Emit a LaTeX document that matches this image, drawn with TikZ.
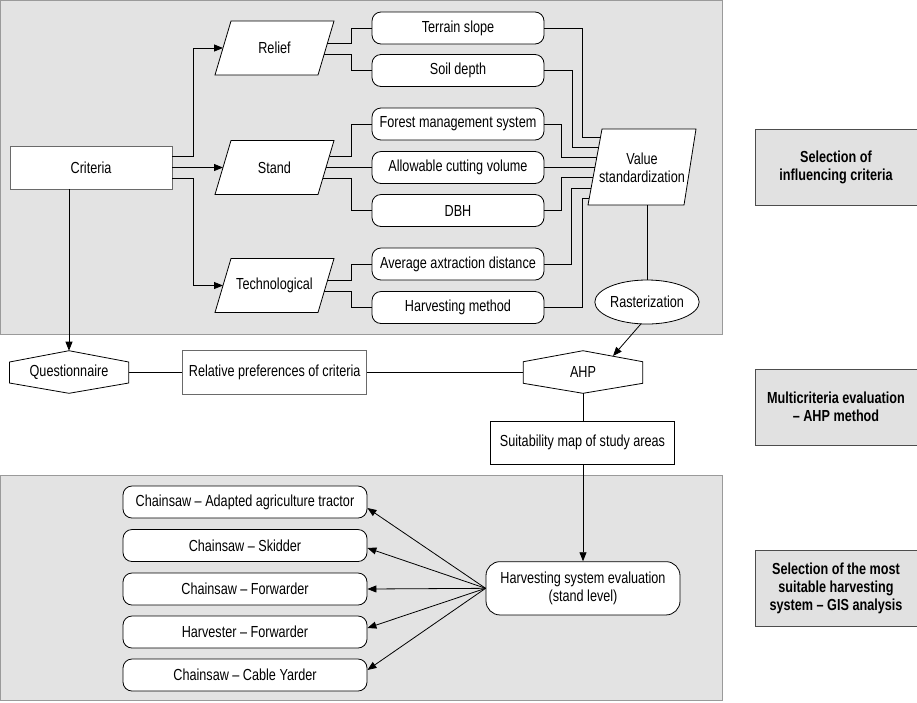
\documentclass[tikz,border=0pt]{standalone}
\usepackage{fontspec}
\setmainfont{Liberation Sans}[FakeStretch=0.79]
\usetikzlibrary{arrows.meta,shapes.geometric}
\definecolor{panelfill}{HTML}{E3E3E3}
\definecolor{panelline}{HTML}{9A9A9A}
\definecolor{labelfill}{HTML}{E1E1E1}
\definecolor{labelline}{HTML}{4D4D4D}
\definecolor{boxgray}{HTML}{6A6A6A}
\begin{document}
\begin{tikzpicture}[x=1pt,y=-1pt,line width=0.8pt,
  font=\fontsize{16}{18}\selectfont,
  rectbox/.style={draw,fill=white,inner sep=0pt,align=center},
  term/.style={draw,fill=white,rounded corners=9pt,minimum width=172pt,minimum height=32pt,inner sep=0pt},
  txt/.style={inner sep=0pt,align=center},
  lab/.style={inner sep=0pt,align=center,font=\fontsize{16}{18}\selectfont\bfseries},
  labbox/.style={draw=labelline,fill=labelfill,line width=0.9pt},
  panel/.style={draw=panelline,fill=panelfill,line width=1pt},
  arr/.style={-{Triangle[length=9pt,width=7pt]}},
  shape fill/.style={draw,fill=white}]
\useasboundingbox[fill=white] (0,0) rectangle (917,702);

% panels
\draw[panel] (0.5,0.5) rectangle (722,334);
\draw[panel] (0.5,475) rectangle (722,700);

% right labels
\draw[labbox] (755.5,129) rectangle (922,205);
\draw[labbox] (755.5,369) rectangle (922,445);
\draw[labbox] (755.5,550) rectangle (922,626);
\node[lab] (lab1) at (836,167) {Selection of\\influencing criteria};
\node[lab] (lab2) at (836,407) {Multicriteria evaluation\\– AHP method};
\node[lab] (lab3) at (836,588) {Selection of the most\\suitable harvesting\\system – GIS analysis};

% criteria
\node[rectbox,draw=boxgray,minimum width=162pt,minimum height=43pt] (criteria) at (91,167.5) {Criteria};

% parallelograms
\draw[shape fill] (231,21) -- (334,21) -- (318,75) -- (215,75) -- cycle;
\node[txt] (relief) at (274.5,48) {Relief};
\draw[shape fill] (231,140.5) -- (334,140.5) -- (318,194.5) -- (215,194.5) -- cycle;
\node[txt] (stand) at (274.5,167.5) {Stand};
\draw[shape fill] (231,258.5) -- (334,258.5) -- (318,312.5) -- (215,312.5) -- cycle;
\node[txt] (tech) at (274.5,285.5) {Technological};

\coordinate (reliefin) at (223,48);
\coordinate (standin) at (223,167.5);
\coordinate (techin) at (223,285.5);
\draw[arr] (172,156) -- (193,156) |- (reliefin);
\draw[arr] (criteria.east) -- (standin);
\draw[arr] (172,178.5) -- (193,178.5) |- (techin);

% criteria boxes
\node[term] (terrain) at (458,28) {Terrain slope};
\node[term] (soil) at (458,70.5) {Soil depth};
\node[term] (fms) at (458,124) {Forest management system};
\node[term] (allow) at (458,167.5) {Allowable cutting volume};
\node[term] (dbh) at (458,210.5) {DBH};
\node[term] (avg) at (458,264) {Average axtraction distance};
\node[term] (harv) at (458,307.5) {Harvesting method};

% relief / stand / tech -> boxes
\draw (327.4,43.3) -- (351,43.3) |- (terrain.west);
\draw (324.2,54) -- (351,54) |- (soil.west);
\draw (329.5,156) -- (351,156) |- (fms.west);
\draw (326,167.5) -- (allow.west);
\draw (322.8,178.3) -- (351,178.3) |- (dbh.west);
\draw (327.7,280) -- (351,280) |- (avg.west);
\draw (324.3,291) -- (351,291) |- (harv.west);

% value standardization
\draw[shape fill] (602,129) -- (696,129) -- (684,205) -- (588,205) -- cycle;
\node[txt] (vs) at (642,168) {Value\\standardization};

\draw (terrain.east) -- (582,28) |- (600.5,137);
\draw (soil.east) -- (572,70.5) |- (598.7,147);
\draw (fms.east) -- (561,124) |- (596.8,157);
\draw (allow.east) -- (594.9,167.5);
\draw (dbh.east) -- (561,210.5) |- (593.2,177);
\draw (avg.east) -- (571,264) |- (591.1,188);
\draw (harv.east) -- (582,307.5) |- (589.3,198);

% rasterization
\node[draw,fill=white,ellipse,minimum width=98pt,minimum height=44pt,inner sep=0pt] (rast) at (647,302) {Rasterization};
\draw (647,205) -- (rast.north);

% middle row
\draw[shape fill] (69,350.7) -- (128.7,362) -- (128.7,383) -- (69,393.3) -- (9.5,383) -- (9.5,362) -- cycle;
\node[txt] (quest) at (69,372) {Questionnaire};
\node[rectbox,draw=boxgray,minimum width=184pt,minimum height=43.3pt] (relpref) at (274.7,372.3) {Relative preferences of criteria};
\draw[shape fill] (583,350.7) -- (642.7,361.7) -- (642.7,383.3) -- (583,393.3) -- (523.3,383.3) -- (523.3,361.7) -- cycle;
\node[txt] (ahp) at (583,372) {AHP};

\coordinate (questtop) at (69,350.7);
\coordinate (questright) at (128.7,372.3);
\coordinate (ahpleft) at (523.3,372.3);
\coordinate (ahpin) at (613,356);
\coordinate (ahpbot) at (583,393.3);
\coordinate (rastout) at (641,323.8);

\draw[arr] (criteria.south -| questtop) -- (questtop);
\draw (questright) -- (relpref.west);
\draw (relpref.east) -- (ahpleft);
\draw[arr] (rastout) -- (ahpin);

\node[rectbox,minimum width=183.6pt,minimum height=43.3pt] (suit) at (582.5,442.7) {Suitability map of study areas};
\draw (ahpbot) -- (suit.north -| ahpbot);

% bottom part
\node[draw,fill=white,rounded corners=14pt,minimum width=194pt,minimum height=53.3pt,inner sep=0pt,align=center] (hse) at (583,588.3) {Harvesting system evaluation\\(stand level)};
\draw[arr] (suit.south -| hse.north) -- (hse.north);

\node[term,minimum width=244pt] (c1) at (245,502) {Chainsaw – Adapted agriculture tractor};
\node[term,minimum width=244pt] (c2) at (245,545.5) {Chainsaw – Skidder};
\node[term,minimum width=244pt] (c3) at (245,589) {Chainsaw – Forwarder};
\node[term,minimum width=244pt] (c4) at (245,632) {Harvester – Forwarder};
\node[term,minimum width=244pt] (c5) at (245,675) {Chainsaw – Cable Yarder};

\draw[arr] (hse.west) -- ([yshift=-6pt]c1.east);
\draw[arr] (hse.west) -- ([yshift=-2.5pt]c2.east);
\draw[arr] (hse.west) -- (c3.east);
\draw[arr] (hse.west) -- ([yshift=4pt]c4.east);
\draw[arr] (hse.west) -- ([yshift=5pt]c5.east);
\end{tikzpicture}
\end{document}
